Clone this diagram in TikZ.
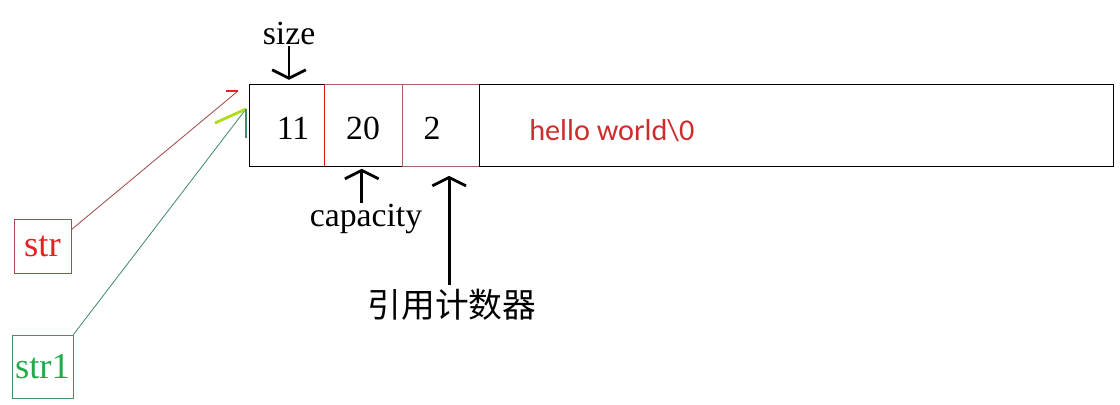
\documentclass[tikz,border=0pt]{standalone}
\usepackage{fontspec}
\setmainfont{Liberation Serif}
\newfontfamily\cjkfont{Noto Sans CJK SC}
\newfontfamily\calfont{Carlito}
\usetikzlibrary{arrows.meta,positioning}
\definecolor{ptrred}{RGB}{165,75,75}
\definecolor{strred}{RGB}{235,30,35}
\definecolor{strgreen}{RGB}{35,170,75}
\definecolor{ptrgreen}{RGB}{70,140,105}
\definecolor{tiplime}{RGB}{175,220,20}
\definecolor{cellred}{RGB}{215,20,20}
\definecolor{cellbrown}{RGB}{165,100,100}
\definecolor{hellored}{RGB}{205,45,45}

\begin{document}
\begin{tikzpicture}[x=0.025cm,y=-0.025cm,>={Straight Barb[length=6pt,width=24pt]}]
    \useasboundingbox (0,0) rectangle (1120,404);
    \tikzset{
        lbl/.style={inner sep=1pt,font=\fontsize{24}{28}\selectfont},
        valtxt/.style={inner sep=1pt,font=\fontsize{24}{28}\selectfont},
        varbox/.style={draw,line width=0.6pt,inner sep=0pt,font=\fontsize{26}{30}\selectfont},
        pointer/.style={line width=2pt,->}
    }
    % String block
    \coordinate (blkNW) at (249,84);
    \coordinate (blkSE) at (1113,166);
    \draw[line width=0.7pt] (blkNW) rectangle (blkSE);
    
    % Header cells
    \draw[cellbrown,line width=0.7pt] (324,84) -- (479,84);
    \draw[cellbrown,line width=0.7pt] (402,166) -- (479,166);
    \draw[cellred,line width=0.7pt] (324,84) -- (324,166);
    \draw[cellbrown,line width=0.7pt] (402,84) -- (402,166);
    \draw[line width=0.7pt] (479,84) -- (479,166);
    
    % Cell values
    \foreach \x/\val/\nm in {293/11/vsize,363/20/vcap,432/2/vref}
        \node[valtxt] (\nm) at (\x,128) {\val};
    \node[anchor=west,inner sep=0pt,text=hellored,font=\calfont\fontsize{21.5}{26}\selectfont]
        (data) at (529,131) {hello world\textbackslash0};
    
    % Labels with arrows
    \node[lbl] (lsize) at (289,33) {size};
    \node[lbl] (lcap) at (366,219) {capacity};
    \node[lbl,font=\cjkfont\fontsize{24}{28}\selectfont] (lref) at (452,305) {引用计数器};
    \draw[pointer] (lsize.south) -- ([yshift=3pt]lsize.south |- blkNW);
    \draw[pointer] ([xshift=-3pt]lcap.north) -- ([xshift=-3pt,yshift=-2pt]lcap.north |- blkSE);
    \draw[pointer] ([xshift=-2pt,yshift=2pt]lref.north) -- ([xshift=-2pt,yshift=-7pt]lref.north |- blkSE);
    
    % Variables
    \node[varbox,draw=ptrred,text=strred,minimum width=1.425cm,minimum height=1.35cm] (str) at (42.5,246) {str};
    \node[varbox,draw=ptrgreen,text=strgreen,minimum width=1.525cm,minimum height=1.575cm] (str1) at (42.5,366.5) {str1};
    
    % Pointers into the block
    \coordinate (strtip) at (238,91);
    \coordinate (str1tip) at (246,109);
    \draw[ptrred,line width=0.6pt] ([yshift=-0.275cm]str.north east) -- (strtip);
    \draw[strred,line width=2pt] (strtip) -- ++(-12,0);
    \draw[ptrgreen,line width=0.6pt] (str1.north east) -- (str1tip);
    \draw[tiplime,line width=2pt] (str1tip) -- ++(-31,14);
    \draw[ptrgreen,line width=1pt] (str1tip) -- ++(0,29);
\end{tikzpicture}
\end{document}
